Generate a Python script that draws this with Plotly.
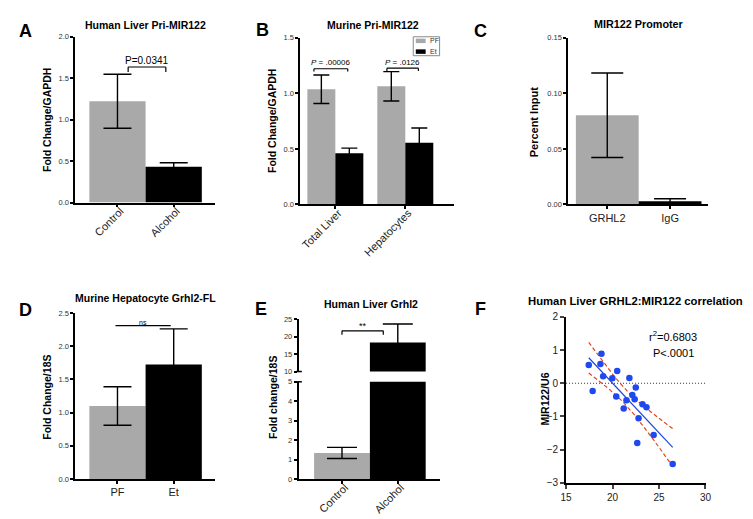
import numpy as np
import plotly.graph_objects as go

W, H = 753, 519
FONT = "Liberation Sans, Arial, sans-serif"
GRAY = "#a9a9a9"
BLACK = "#000000"

# ---------------- data ----------------
# Panel A
a_cats = ["Control", "Alcohol"]
a_vals = [1.222, 0.432]
a_err = [0.326, 0.048]

# Panel B
b_cats = ["Total Liver", "Hepatocytes"]
b_series = ["PF", "Et"]
b_pf = [1.037, 1.063]
b_pf_err = [0.128, 0.132]
b_et = [0.460, 0.556]
b_et_err = [0.047, 0.132]

# Panel C
c_cats = ["GRHL2", "IgG"]
c_vals = [0.0803, 0.0029]
c_err = [0.038, 0.0023]

# Panel D
d_cats = ["PF", "Et"]
d_vals = [1.098, 1.725]
d_err = [0.29, 0.535]

# Panel E
e_cats = ["Control", "Alcohol"]
e_vals = [1.342, 18.29]
e_err = [0.285, 5.31]

# Panel F
f_grhl2 = [17.44, 17.86, 18.70, 18.81, 18.99, 19.98, 20.40, 20.50, 21.20, 21.50,
           21.81, 22.13, 22.38, 22.50, 22.66, 22.80, 23.22, 23.65, 24.42, 26.47]
f_mir122 = [0.55, -0.23, 0.58, 0.89, 0.21, 0.15, -0.40, 0.37, -0.76, -0.51,
            0.16, -0.35, -0.48, -0.13, -1.80, -1.05, -0.63, -0.72, -1.56, -2.43]
T_CRIT_18 = 2.1009

# ---------------- helpers ----------------
def px_x(p):
    return p / W

def px_y(p):
    return 1 - p / H

fig = go.Figure()


def bar(cats, vals, errs, colors, xa, ya, cap, width=1.0, name=None):
    kw = dict(x=cats, y=vals, marker=dict(color=colors, line=dict(width=0)),
              error_y=dict(type="data", array=errs, color="black", thickness=1.4, width=cap),
              xaxis=xa, yaxis=ya, showlegend=False, name=name)
    if width is not None:
        kw["width"] = width
    return go.Bar(**kw)

fig.add_trace(bar(a_cats, a_vals, a_err, [GRAY, BLACK], "x", "y", 14))
fig.add_trace(bar(b_cats, b_pf, b_pf_err, GRAY, "x2", "y2", 8, width=None, name=b_series[0]))
fig.add_trace(bar(b_cats, b_et, b_et_err, BLACK, "x2", "y2", 8, width=None, name=b_series[1]))
fig.add_trace(bar(c_cats, c_vals, c_err, [GRAY, BLACK], "x3", "y3", 16))
fig.add_trace(bar(d_cats, d_vals, d_err, [GRAY, BLACK], "x4", "y4", 14))
fig.add_trace(bar(e_cats, e_vals, e_err, [GRAY, BLACK], "x5", "y5", 15))
fig.add_trace(bar(e_cats, e_vals, e_err, [GRAY, BLACK], "x5", "y7", 15))

# Panel F: scatter + linear fit + 95% CI
xf = np.array(f_grhl2)
yf = np.array(f_mir122)
slope, intercept = np.polyfit(xf, yf, 1)
n = len(xf)
resid = yf - (slope * xf + intercept)
s = np.sqrt(np.sum(resid ** 2) / (n - 2))
sxx = np.sum((xf - xf.mean()) ** 2)
xs = np.linspace(xf.min(), xf.max(), 80)
ys = slope * xs + intercept
hw = T_CRIT_18 * s * np.sqrt(1 / n + (xs - xf.mean()) ** 2 / sxx)

fig.add_trace(go.Scatter(x=xs, y=ys + hw, mode="lines", line=dict(color="#e4431c", width=1.2, dash="4px,2.5px"),
                         xaxis="x6", yaxis="y6", showlegend=False))
fig.add_trace(go.Scatter(x=xs, y=ys - hw, mode="lines", line=dict(color="#e4431c", width=1.2, dash="4px,2.5px"),
                         xaxis="x6", yaxis="y6", showlegend=False))
fig.add_trace(go.Scatter(x=xs, y=ys, mode="lines", line=dict(color="#2046d8", width=1.2),
                         xaxis="x6", yaxis="y6", showlegend=False))
fig.add_trace(go.Scatter(x=xf, y=yf, mode="markers", marker=dict(color="#1f48ee", size=6.5),
                         xaxis="x6", yaxis="y6", showlegend=False))

# ---------------- axes ----------------
small_tick = dict(family=FONT, size=7.5, color="#333")
cat_tick = dict(family=FONT, size=11, color="#222")
common_y = dict(showline=True, linecolor="black", linewidth=1.8, ticks="outside", ticklen=3,
                tickwidth=1.5, tickcolor="black", showgrid=False, zeroline=False, tickfont=small_tick)
common_x = dict(showline=True, linecolor="black", linewidth=1.8, ticks="outside", ticklen=3,
                tickwidth=1.5, tickcolor="black", showgrid=False, zeroline=False, tickfont=cat_tick,
                type="category")
rot = dict(tickangle=-45, ticklabelstandoff=-7, ticklabelshift=3)
flat = dict(ticklabelstandoff=-1)

layout_axes = {}
# A
layout_axes["xaxis"] = dict(common_x, domain=[px_x(62.3), px_x(204)], range=[-0.75, 1.73], anchor="y", **rot)
layout_axes["yaxis"] = dict(common_y, domain=[px_y(193), px_y(23.3)], range=[0, 2.0], anchor="x",
                            tickvals=[0, 0.5, 1.0, 1.5, 2.0], tickformat=".1f")
# B
layout_axes["xaxis2"] = dict(common_x, domain=[px_x(291), px_x(446.7)], range=[-0.5, 1.69], anchor="y2", **rot)
layout_axes["yaxis2"] = dict(common_y, domain=[px_y(195), px_y(24.3)], range=[0, 1.5], anchor="x2",
                             tickvals=[0, 0.5, 1.0, 1.5], tickformat=".1f")
# C
layout_axes["xaxis3"] = dict(common_x, domain=[px_x(563.3), px_x(705)], range=[-0.62, 1.6], anchor="y3", **flat)
layout_axes["yaxis3"] = dict(common_y, domain=[px_y(195), px_y(24.3)], range=[0, 0.15], anchor="x3",
                             tickvals=[0, 0.05, 0.10, 0.15], tickformat=".2f")
# D
layout_axes["xaxis4"] = dict(common_x, domain=[px_x(62.3), px_x(204)], range=[-0.75, 1.73], anchor="y4", **flat)
layout_axes["yaxis4"] = dict(common_y, domain=[px_y(476), px_y(306)], range=[0, 2.5], anchor="x4",
                             tickvals=[0, 0.5, 1.0, 1.5, 2.0, 2.5], tickformat=".1f")
# E (broken axis)
layout_axes["xaxis5"] = dict(common_x, domain=[px_x(289.3), px_x(432.7)], range=[-0.776, 1.753], anchor="y5", **rot)
layout_axes["yaxis5"] = dict(common_y, domain=[px_y(476), px_y(376.5)], range=[0, 5], anchor="x5",
                             tickvals=[0, 1, 2, 3, 4, 5])
layout_axes["yaxis7"] = dict(common_y, domain=[px_y(366), px_y(312.3)], range=[10, 25], anchor="x5",
                             tickvals=[10, 15, 20, 25])
# F
f_tick = dict(family=FONT, size=10, color="#222")
layout_axes["xaxis6"] = dict(showline=True, linecolor="black", linewidth=1.8, ticks="outside", ticklen=4,
                             tickwidth=1.5, showgrid=False, zeroline=False, tickfont=f_tick,
                             domain=[px_x(561), px_x(702.7)], range=[15, 30], anchor="y6",
                             tickvals=[15, 20, 25, 30])
layout_axes["yaxis6"] = dict(showline=True, linecolor="black", linewidth=1.8, ticks="outside", ticklen=4,
                             tickwidth=1.5, showgrid=False, zeroline=False, tickfont=f_tick,
                             domain=[px_y(480), px_y(310)], range=[-3, 2], anchor="x6",
                             tickvals=[-3, -2, -1, 0, 1, 2])

# ---------------- annotations ----------------
ann = []

def text(x, y, t, size, bold=False, angle=0, xanchor="center", yanchor="middle", color="black"):
    tt = "<b>" + t + "</b>" if bold else t
    ann.append(dict(x=px_x(x), y=px_y(y), xref="paper", yref="paper", text=tt, showarrow=False,
                    textangle=angle, xanchor=xanchor, yanchor=yanchor, borderpad=0,
                    font=dict(family=FONT, size=size, color=color)))

# panel letters
for (lx, ly, L) in [(11.7, 17, "A"), (252.7, 16.5, "B"), (474, 17, "C"),
                    (11.5, 302.5, "D"), (251, 302, "E"), (474, 301.5, "F")]:
    text(lx, ly, L, 18, bold=True)

# titles
text(134, 11.7, "Human Liver Pri-MIR122", 10.5, bold=True)
text(365, 11.7, "Murine Pri-MIR122", 10.5, bold=True)
text(635, 10.5, "MIR122 Promoter", 10.8, bold=True)
text(134, 290.7, "Murine Hepatocyte Grhl2-FL", 10.5, bold=True)
text(362.7, 297.3, "Human Liver Grhl2", 10.5, bold=True)
text(632, 294.3, "Human Liver GRHL2:MIR122 correlation", 11.3, bold=True)

# y-axis titles
text(33, 108, "Fold Change/GAPDH", 10.5, bold=True, angle=-90)
text(262.7, 110, "Fold Change/GAPDH", 10.5, bold=True, angle=-90)
text(529.3, 110, "Percent Input", 11, bold=True, angle=-90)
text(33.3, 392, "Fold Change/18S", 10.5, bold=True, angle=-90)
text(263.3, 393, "Fold change/18S", 10.5, bold=True, angle=-90)
text(539.3, 394, "MIR122/U6", 10.5, bold=True, angle=-90)

# F stats
text(670, 330, "r<sup>2</sup>=0.6803", 11)
text(670, 347, "P&lt;.0001", 11)

# legend for panel B (drawn manually, matches tiny GraphPad legend)
text(421.5, 27.5, b_series[0], 7, xanchor="left", color="#333")
text(421.5, 38.5, b_series[1], 7, xanchor="left", color="#333")

# significance labels (data coordinates)
def dtext(xa, ya, x, y, t, size):
    ann.append(dict(x=x, y=y, xref=xa, yref=ya, text=t, showarrow=False, xanchor="center",
                    yanchor="bottom", font=dict(family=FONT, size=size, color="black")))

dtext("x", "y", 0.53, 1.625, "P=0.0341", 10)
dtext("x2", "y2", -0.065, 1.215, "<i>P</i> = .00006", 8)
dtext("x2", "y2", 0.96, 1.22, "<i>P</i> = .0126", 8)
dtext("x4", "y4", 0.46, 2.28, "ns", 7)
dtext("x5", "y7", 0.37, 21.0, "**", 9)

# ---------------- shapes ----------------
shapes = []

def bracket(xa, ya, x0, x1, y, drop):
    ln = dict(color="black", width=1.2)
    shapes.append(dict(type="line", xref=xa, yref=ya, x0=x0, x1=x1, y0=y, y1=y, line=ln))
    if drop:
        shapes.append(dict(type="line", xref=xa, yref=ya, x0=x0, x1=x0, y0=y, y1=y - drop, line=ln))
        shapes.append(dict(type="line", xref=xa, yref=ya, x0=x1, x1=x1, y0=y, y1=y - drop, line=ln))

bracket("x", "y", 0.19, 0.86, 1.635, 0.06)
bracket("x2", "y2", -0.306, 0.177, 1.221, 0.025)
bracket("x2", "y2", 0.737, 1.187, 1.226, 0.025)
bracket("x4", "y4", -0.035, 0.947, 2.309, 0)
bracket("x5", "y7", 0.0, 0.74, 21.65, 1.15)

# zero reference line in F
shapes.append(dict(type="line", xref="x6 domain", yref="y6", x0=0, x1=1, y0=0, y1=0,
                   line=dict(color="#333", width=1, dash="1px,2px")))

# legend box + swatches for B
def prect(x0, y0, x1, y1, fill, line_color=None, lw=0):
    shapes.append(dict(type="rect", xref="paper", yref="paper", x0=px_x(x0), x1=px_x(x1),
                       y0=px_y(y1), y1=px_y(y0), fillcolor=fill, layer="below",
                       line=dict(color=line_color or fill, width=lw)))

prect(405.7, 23.3, 432.5, 42.7, "white", "#888", 1)
prect(408.3, 25.2, 418.3, 29.8, GRAY)
prect(408.3, 36.2, 418.3, 40.8, BLACK)

# axis-break caps in E
shapes.append(dict(type="line", xref="paper", yref="paper", x0=px_x(286.5), x1=px_x(292.5),
                   y0=px_y(376.5), y1=px_y(376.5), line=dict(color="black", width=1.5)))
shapes.append(dict(type="line", xref="paper", yref="paper", x0=px_x(286.5), x1=px_x(292.5),
                   y0=px_y(366), y1=px_y(366), line=dict(color="black", width=1.5)))

fig.update_layout(
    width=W, height=H, margin=dict(l=0, r=0, t=0, b=0),
    paper_bgcolor="white", plot_bgcolor="white",
    barmode="group", bargap=0.2, bargroupgap=0,
    font=dict(family=FONT, color="black"),
    annotations=ann, shapes=shapes, showlegend=False,
    **layout_axes,
)

fig.write_html("out.html")
